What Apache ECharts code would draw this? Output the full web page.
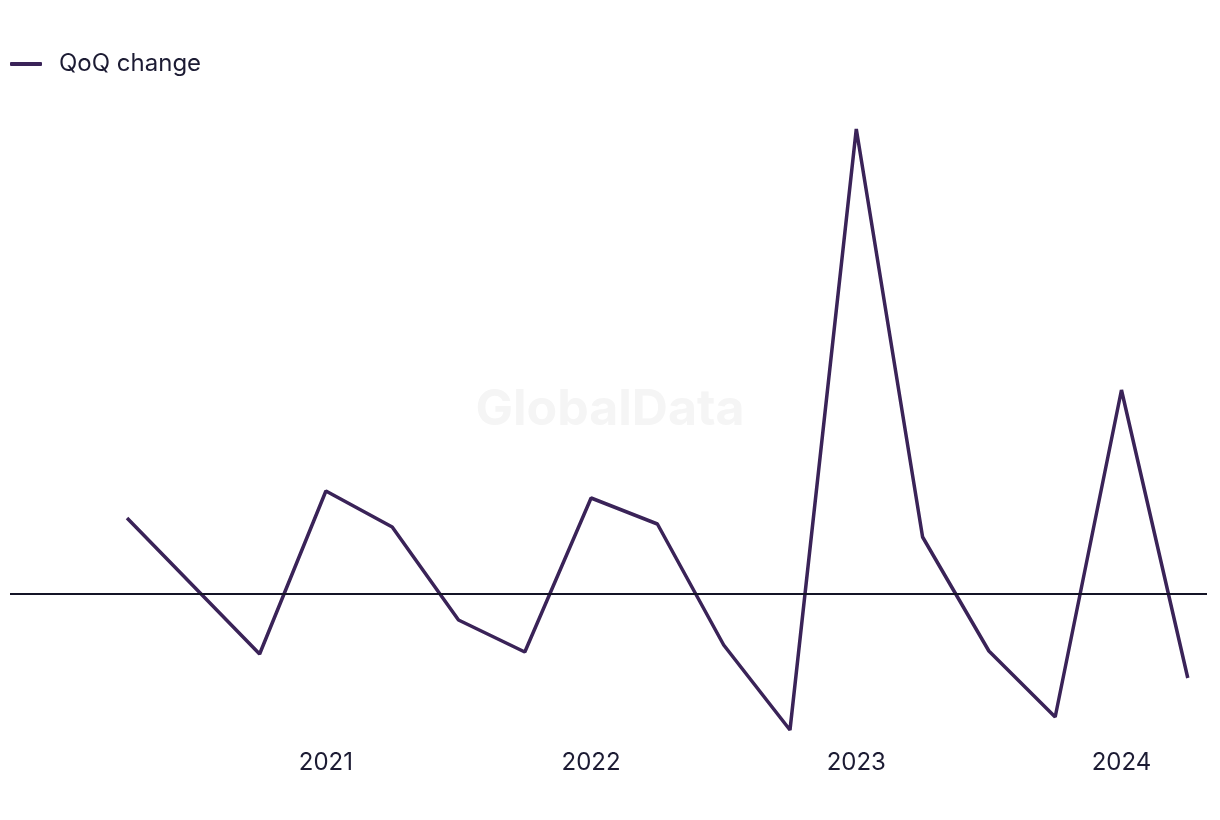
<!DOCTYPE html>
<html>
<head>
<meta charset="utf-8">
<script src="https://cdn.jsdelivr.net/npm/echarts@6/dist/echarts.min.js"></script>
<style>html,body{margin:0;padding:0;background:#fff}#c{width:1220px;height:820px}</style>
</head>
<body>
<div id="c"></div>
<script>
const quarters = ['2020 Q2','2020 Q3','2020 Q4','2021 Q1','2021 Q2','2021 Q3','2021 Q4','2022 Q1','2022 Q2','2022 Q3','2022 Q4','2023 Q1','2023 Q2','2023 Q3','2023 Q4','2024 Q1','2024 Q2'];
const qoqChange = [7.6, 0.8, -6.0, 10.3, 6.7, -2.6, -5.8, 9.6, 7.0, -5.1, -13.6, 46.5, 5.7, -5.7, -12.3, 20.4, -8.4];
const yearLabels = ['2021','2022','2023','2024'];
const yearTickIdx = [3, 7, 11, 15];

const chart = echarts.init(document.getElementById('c'));
const font = 'Inter, "Liberation Sans", sans-serif';
chart.setOption({
  animation: false,
  backgroundColor: '#ffffff',
  legend: {
    left: 5, top: 47,
    itemWidth: 32, itemHeight: 4, itemGap: 20,
    icon: 'roundRect',
    textStyle: {fontFamily: font, fontSize: 24, color: '#1c1b33', padding: [0, 0, 0, 12]},
    data: ['QoQ change']
  },
  graphic: [{
    type: 'text', left: 'center', top: 385,
    style: {text: 'GlobalData', font: 'bold 50px ' + font, fill: '#f5f5f5'}
  }],
  grid: {left: 10, right: 13, top: 100, bottom: 80},
  xAxis: {
    type: 'value',
    min: -1.765, max: 16.29,
    axisLine: {show: false}, axisTick: {show: false}, splitLine: {show: false},
    axisLabel: {
      customValues: yearTickIdx,
      formatter: v => yearLabels[yearTickIdx.indexOf(Math.round(v))] || '',
      fontFamily: font, fontSize: 24, color: '#1c1b33', margin: 11
    }
  },
  yAxis: {
    type: 'value', min: -14.6, max: 49.4,
    axisLine: {show: false}, axisTick: {show: false}, axisLabel: {show: false}, splitLine: {show: false}
  },
  series: [{
    name: 'QoQ change', type: 'line',
    data: qoqChange.map((v, i) => [i, v]),
    showSymbol: false, symbol: 'none',
    lineStyle: {color: '#3a2358', width: 3.5},
    itemStyle: {color: '#3a2358'},
    markLine: {
      silent: true, symbol: 'none', label: {show: false},
      lineStyle: {color: '#141426', width: 1.8, type: 'solid'},
      data: [{yAxis: 0}]
    }
  }]
});
</script>
</body>
</html>
